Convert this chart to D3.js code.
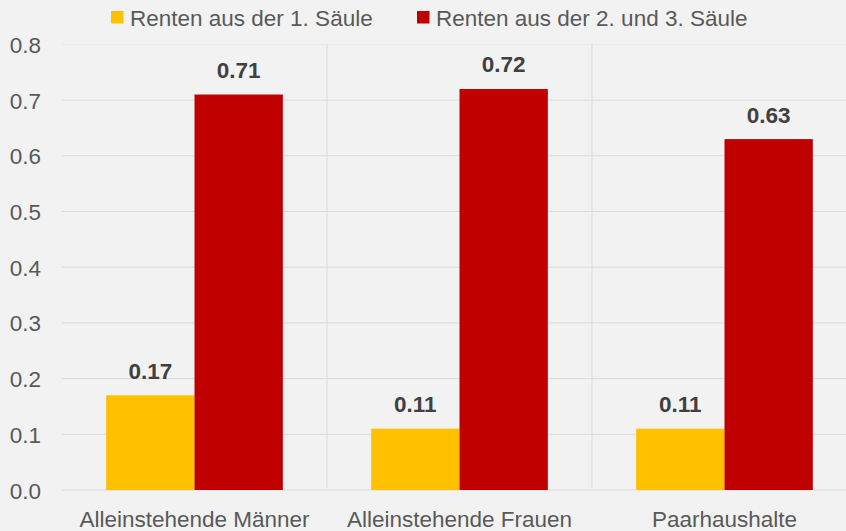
<!DOCTYPE html>
<html>
<head>
<meta charset="utf-8">
<script src="https://cdn.jsdelivr.net/npm/d3@7"></script>
<style>
  body { margin: 0; background: #f2f2f2; }
  svg { display: block; font-family: "Liberation Sans", Arial, sans-serif; }
</style>
</head>
<body>
<svg id="chart" width="846" height="531"></svg>
<script>
// data
const categories = ["Alleinstehende Männer", "Alleinstehende Frauen", "Paarhaushalte"];
const seriesNames = ["Renten aus der 1. Säule", "Renten aus der 2. und 3. Säule"];
const pillar1 = [0.17, 0.11, 0.11];
const pillar23 = [0.71, 0.72, 0.63];
const yTicks = [0, 0.1, 0.2, 0.3, 0.4, 0.5, 0.6, 0.7, 0.8];
const colors = ["#ffc000", "#c00000"];

const data = categories.map((c, i) => ({ cat: c, values: [pillar1[i], pillar23[i]] }));

const svg = d3.select("#chart");
svg.append("rect").attr("width", 846).attr("height", 531).attr("fill", "#f2f2f2");

// scales
const x = d3.scaleBand().domain(categories).range([62, 857]);
const x1 = d3.scaleBand().domain([0, 1]).range([0, x.bandwidth()]).paddingOuter(0.5).paddingInner(0);
const y = d3.scaleLinear().domain([0, 0.8]).range([490, 44.4]);

// horizontal grid
svg.append("g")
  .selectAll("line")
  .data(yTicks.filter((d) => d > 0))
  .join("line")
  .attr("x1", 62)
  .attr("x2", 846)
  .attr("y1", (d) => y(d))
  .attr("y2", (d) => y(d))
  .attr("stroke", (d) => (d === 0.8 ? "#e8e8e8" : "#d9d9d9"))
  .attr("stroke-width", 1);

// vertical separators between categories
svg.append("g")
  .selectAll("line")
  .data(categories.slice(1))
  .join("line")
  .attr("x1", (d) => x(d))
  .attr("x2", (d) => x(d))
  .attr("y1", y(0.8))
  .attr("y2", y(0) - 2)
  .attr("stroke", "#d9d9d9");

// baseline
svg.append("line")
  .attr("x1", 62).attr("x2", 846)
  .attr("y1", y(0)).attr("y2", y(0))
  .attr("stroke", "#d9d9d9");

// y tick labels
svg.append("g")
  .selectAll("text")
  .data(yTicks)
  .join("text")
  .attr("x", 41)
  .attr("y", (d) => y(d) + 8.5)
  .attr("text-anchor", "end")
  .attr("fill", "#595959")
  .attr("font-size", 22.5)
  .text((d) => d3.format(".1f")(d));

// bars
const groups = svg.append("g")
  .selectAll("g")
  .data(data)
  .join("g")
  .attr("transform", (d) => `translate(${x(d.cat)},0)`);

groups.selectAll("rect")
  .data((d) => d.values.map((v, i) => ({ v, i })))
  .join("rect")
  .attr("x", (d) => x1(d.i))
  .attr("width", x1.bandwidth())
  .attr("y", (d) => y(d.v))
  .attr("height", (d) => y(0) - y(d.v))
  .attr("fill", (d) => colors[d.i]);

// value labels
groups.selectAll("text.val")
  .data((d) => d.values.map((v, i) => ({ v, i })))
  .join("text")
  .attr("class", "val")
  .attr("x", (d) => x1(d.i) + x1.bandwidth() / 2)
  .attr("y", (d) => y(d.v) - 16.5)
  .attr("text-anchor", "middle")
  .attr("font-size", 22.5)
  .attr("font-weight", "bold")
  .attr("fill", "#404040")
  .text((d) => d3.format(".2f")(d.v));

// category labels
svg.append("g")
  .selectAll("text")
  .data(categories)
  .join("text")
  .attr("x", (d) => x(d) + x.bandwidth() / 2)
  .attr("y", 527)
  .attr("text-anchor", "middle")
  .attr("font-size", 22.5)
  .attr("fill", "#595959")
  .text((d) => d);

// legend
const legendX = [111, 417];
const legend = svg.append("g")
  .selectAll("g")
  .data(seriesNames)
  .join("g")
  .attr("transform", (d, i) => `translate(${legendX[i]},11)`);
legend.append("rect").attr("width", 12.5).attr("height", 12.5).attr("fill", (d, i) => colors[i]);
legend.append("text")
  .attr("x", 19)
  .attr("y", 15)
  .attr("font-size", 22.5)
  .attr("fill", "#595959")
  .text((d) => d);
</script>
</body>
</html>
